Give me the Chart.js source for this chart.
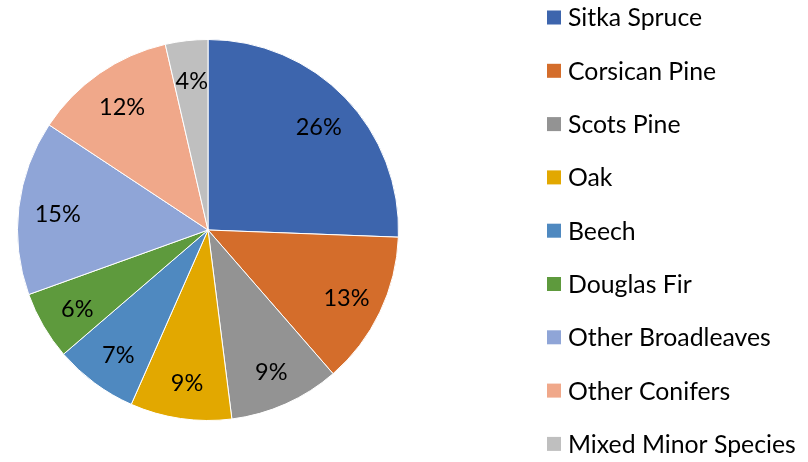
<!doctype html>
<html>
<head>
    <title>Species</title>
    <script src="https://cdn.jsdelivr.net/npm/chart.js@4/dist/chart.umd.min.js"></script>
    <style>
        body { margin: 0; background: #fff; }
    </style>
</head>
<body>
    <canvas id="myChart" width="808" height="462"></canvas>
    <script>
    var species = ['Sitka Spruce', 'Corsican Pine', 'Scots Pine', 'Oak', 'Beech', 'Douglas Fir', 'Other Broadleaves', 'Other Conifers', 'Mixed Minor Species'];
    var shares = [25.6, 13.0, 9.4, 8.6, 7.1, 5.8, 14.8, 12.1, 3.6];
    var colors = ['#3d65ad', '#d46d2b', '#939393', '#e2a800', '#4f89c0', '#5e9a3d', '#8fa5d7', '#f0a88a', '#bfbfbf'];

    var FONT = 'Lato, "Open Sans", sans-serif';

    // percent labels inside slices
    var sliceLabels = {
        id: 'sliceLabels',
        afterDatasetsDraw: function(chart) {
            var ctx = chart.ctx;
            var meta = chart.getDatasetMeta(0);
            var total = shares.reduce(function(a, b) { return a + b; }, 0);
            ctx.save();
            ctx.font = '23.5px ' + FONT;
            ctx.fillStyle = '#000';
            ctx.textAlign = 'center';
            ctx.textBaseline = 'middle';
            meta.data.forEach(function(arc, i) {
                var mid = (arc.startAngle + arc.endAngle) / 2;
                var r = arc.outerRadius * 0.8;
                var x = arc.x + Math.cos(mid) * r;
                var y = arc.y + Math.sin(mid) * r;
                ctx.fillText(Math.round(shares[i] / total * 100) + '%', x + 1, y + 3);
            });
            ctx.restore();
        }
    };

    // legend on the right, one item per row
    var sideLegend = {
        id: 'sideLegend',
        afterDraw: function(chart) {
            var ctx = chart.ctx;
            ctx.save();
            ctx.font = '24.8px ' + FONT;
            ctx.textBaseline = 'middle';
            ctx.fillStyle = '#000';
            chart.data.labels.forEach(function(lab, i) {
                var y = 17.5 + i * 53.3;
                ctx.fillStyle = colors[i];
                ctx.fillRect(547, y - 7, 14, 14);
                ctx.fillStyle = '#000';
                ctx.fillText(lab, 568, y + 1);
            });
            ctx.restore();
        }
    };

    new Chart(document.getElementById('myChart'), {
        type: 'pie',
        data: {
            labels: species,
            datasets: [{
                data: shares,
                backgroundColor: colors,
                borderColor: '#fff',
                borderWidth: 1
            }]
        },
        options: {
            responsive: false,
            animation: false,
            layout: { padding: { left: 17, top: 39, right: 409, bottom: 41 } },
            plugins: {
                legend: { display: false },
                tooltip: { enabled: false }
            }
        },
        plugins: [sliceLabels, sideLegend]
    });
    </script>
</body>
</html>
